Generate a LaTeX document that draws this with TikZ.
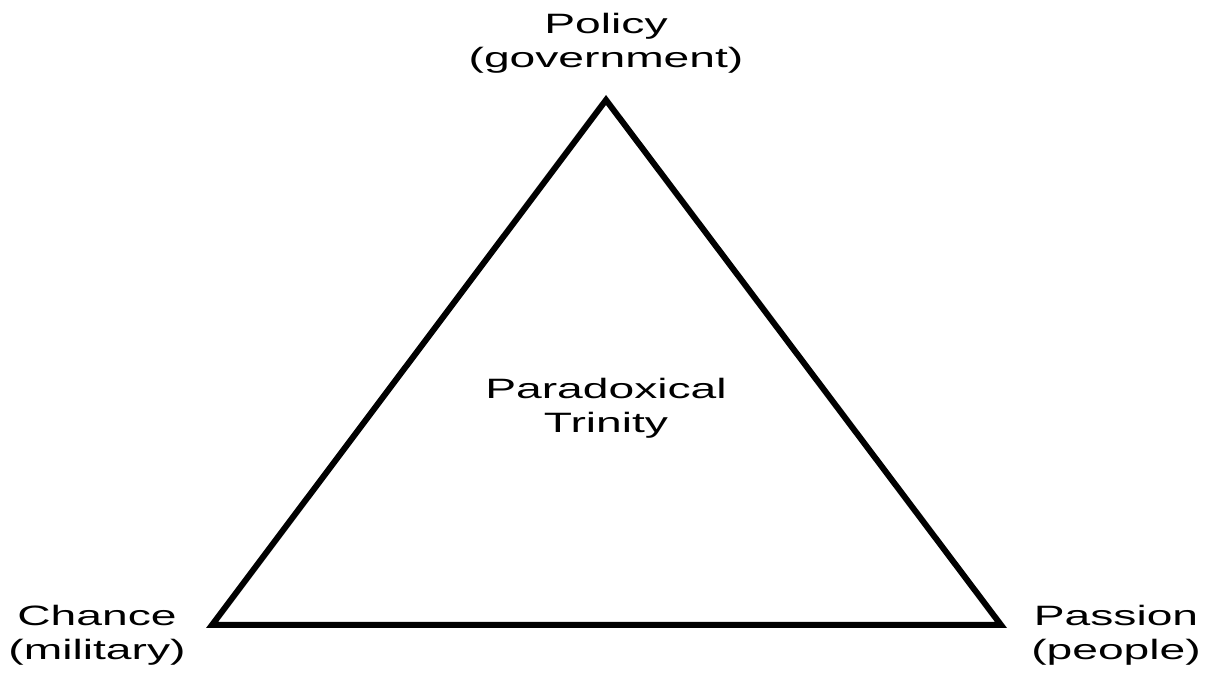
\documentclass[tikz,border=0pt]{standalone}
\usepackage{fontspec}
\newfontfamily\lblfont{Liberation Sans}[FakeStretch=1.65]
\usetikzlibrary{positioning}

\begin{document}
\begin{tikzpicture}[x=1pt,y=1pt]
  \tikzstyle{trinityEdge} = [black, line width=3pt, line join=miter];
  \tikzstyle{cornerLabel} = [align=center, inner sep=0pt, font={\lblfont\fontsize{14}{17}\selectfont}];

  \useasboundingbox (0,0) rectangle (604,336.5);

  \coordinate (policyCorner)  at (303,286.5);
  \coordinate (chanceCorner)  at (106,24);
  \coordinate (passionCorner) at (500.5,24);

  \draw[trinityEdge] (policyCorner) -- (chanceCorner) -- (passionCorner) -- cycle;

  \node[cornerLabel] (policy)  at (303,315)   {Policy\\(government)};
  \node[cornerLabel] (chance)  at (48.5,19)   {Chance\\(military)};
  \node[cornerLabel] (passion) at (558,19)    {Passion\\(people)};
  \node[cornerLabel] (trinity) at (303,132.5) {Paradoxical\\Trinity};
\end{tikzpicture}
\end{document}
